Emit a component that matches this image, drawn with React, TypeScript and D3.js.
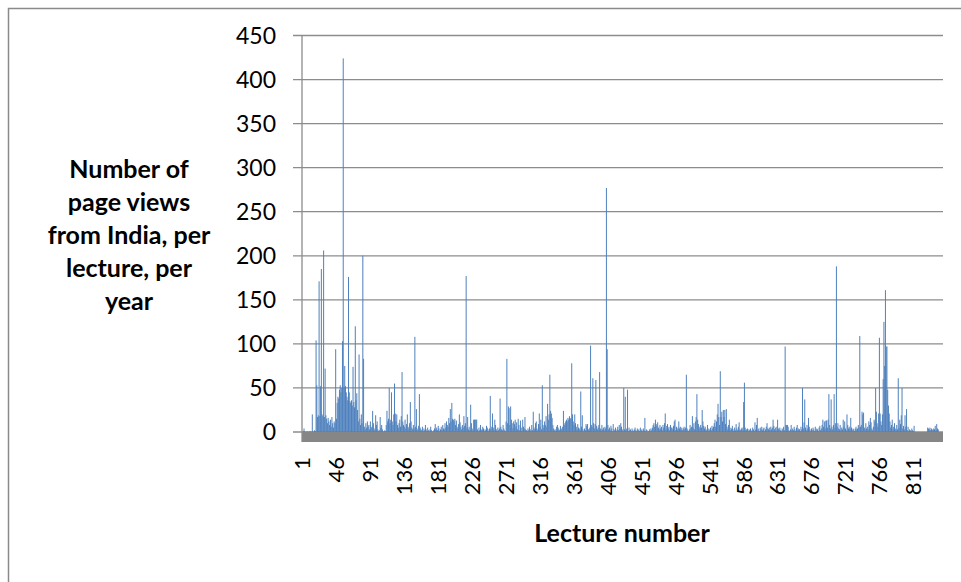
import React from "react";
import * as d3 from "d3";

// Page views from India per lecture per year (lecture 1..850)
const views: number[] = [
  // 1-50
  0,1,4,1,0,0,1,0,0,1, 0,1,0,20,1,0,2,1,104,53, 17,19,171,18,52,185,20,18,206,17, 72,19,15,10,16,12,8,14,6,17, 10,5,12,10,94,15,33,40,38,48,
  // 51-100
  53,45,50,103,424,50,75,52,45,40, 36,176,45,35,33,36,30,74,34,28, 120,36,44,25,12,88,15,8,20,10, 200,83,6,3,10,5,12,6,8,3, 12,5,6,24,10,4,2,19,8,12,
  // 101-150
  3,1,2,17,5,8,3,1,0,2, 1,8,24,12,15,50,10,14,45,12, 8,20,55,21,12,20,8,5,10,14, 6,18,68,12,8,6,14,4,9,20, 6,4,10,34,12,5,3,8,4,108,
  // 151-200
  6,26,4,2,7,43,5,3,2,6, 1,4,2,8,3,1,5,2,1,3, 6,2,1,0,2,4,9,3,5,2, 7,4,1,3,6,2,8,4,3,10, 5,12,8,6,16,10,26,12,33,15,
  // 201-250
  14,12,15,8,13,6,4,9,20,11, 6,3,8,5,18,7,10,177,5,17, 3,6,2,31,10,4,2,14,14,14, 14,14,3,1,5,2,8,3,2,6, 4,1,3,2,7,5,3,1,4,41,
  // 251-300
  3,6,21,5,2,14,8,3,1,5, 2,4,38,6,3,2,8,4,2,1, 12,83,10,29,27,8,29,14,10,4, 12,9,14,6,11,3,15,8,2,13, 5,1,14,6,4,17,3,2,1,4,
  // 301-350
  2,6,3,1,8,2,23,5,3,10, 12,4,2,9,21,6,14,3,53,8, 5,12,8,18,6,32,14,20,65,24, 21,16,8,4,2,3,1,6,8,5, 3,2,7,4,3,6,24,8,10,12,
  // 351-400
  14,12,16,14,18,15,16,78,20,12, 8,20,10,6,3,9,5,4,2,46, 6,19,3,1,4,2,9,7,9,3, 3,5,98,8,6,61,10,4,9,59, 7,3,5,8,68,4,2,8,3,5,
  // 401-450
  2,6,4,277,94,8,3,5,2,7, 4,1,9,3,2,5,1,3,6,2, 8,4,10,6,3,1,50,3,40,2, 4,48,1,5,2,3,1,4,2,1, 3,5,2,1,4,2,3,1,5,2,
  // 451-500
  3,1,4,2,16,1,3,2,0,1, 3,1,4,2,5,8,10,6,14,9, 7,11,5,3,8,4,6,2,8,5, 10,21,3,7,9,4,6,2,8,5, 5,3,7,12,14,2,6,3,5,12,
  // 501-550
  4,6,3,5,2,4,6,3,5,65, 4,2,1,3,8,4,6,18,5,10, 3,12,17,43,14,9,6,4,8,5, 25,12,7,4,6,3,2,8,4,1, 3,5,2,7,4,6,10,14,6,12,
  // 551-600
  20,32,17,8,69,17,23,12,25,17, 25,9,26,6,3,8,14,5,2,4, 7,3,1,5,2,9,4,2,6,11, 3,2,4,5,2,34,56,5,2,3, 4,1,3,2,4,1,2,5,3,1,
  // 601-650
  11,3,8,16,2,4,1,5,3,6, 2,4,5,1,3,6,10,4,3,5, 2,6,3,5,14,7,3,5,2,6, 14,4,3,5,2,1,4,3,6,2, 97,8,8,8,6,2,1,3,8,2,
  // 651-700
  4,2,6,3,1,5,8,2,4,3, 1,6,3,50,4,11,37,5,2,8, 4,16,6,3,1,4,2,5,3,1, 6,2,4,3,1,5,7,2,4,8, 14,6,12,4,13,13,5,14,43,8,
  // 701-750
  4,37,6,3,8,43,5,10,188,6, 10,4,3,8,2,5,3,14,6,12, 4,2,20,8,4,6,3,16,5,2, 4,3,1,4,6,3,4,8,5,109, 6,8,23,20,22,5,3,10,4,6,
  // 751-800
  3,12,8,16,11,4,2,6,14,12, 50,23,10,6,21,107,21,12,8,20, 60,125,75,161,97,97,48,30,21,12, 5,8,14,3,6,10,4,2,8,3, 61,5,14,9,19,50,4,7,3,19,
  // 801-850
  6,26,2,6,1,3,2,1,4,2, 1,7,0,0,0,0,0,0,0,0, 0,0,0,0,0,0,0,0,0,5, 4,3,5,2,4,3,2,4,3,7, 2,9,4,3,0,0,0,0,0,0,
];

const lectures: number[] = views.map((_, i) => i + 1);
const xTickLabels: string[] = ["1","46","91","136","181","226","271","316","361","406","451","496","541","586","631","676","721","766","811"];
const yTicks: number[] = [0, 50, 100, 150, 200, 250, 300, 350, 400, 450];
const yTitleLines: string[] = ["Number of", "page views", "from India, per", "lecture, per", "year"];
const xTitle = "Lecture number";

const W = 961;
const H = 582;
const left = 302;
const right = 943;
const top = 35.5;
const bottom = 432;

export default function App() {
  const x = d3.scaleBand<number>().domain(lectures).range([left, right]).padding(0);
  const y = d3.scaleLinear().domain([0, 450]).range([bottom, top]);
  const bw = Math.max(x.bandwidth(), 1);
  const font = "Lato, 'Open Sans', sans-serif";
  const grid = "#8c8c8c";

  return (
    <svg
      width={W}
      height={H}
      style={{ position: "absolute", left: 0, top: 0, display: "block", background: "#fff" }}
    >
      {/* chart area border */}
      <path d={`M8.5,${H} V8.5 H${W}`} fill="none" stroke="#8a8a8a" strokeWidth={1.5} />

      {/* gridlines */}
      {yTicks.map((t) => (
        <line key={"g" + t} x1={293} x2={right} y1={y(t)} y2={y(t)} stroke={grid} strokeWidth={1.3} />
      ))}

      {/* bars */}
      {views.map((v, i) =>
        v > 0 ? (
          <rect
            key={i}
            x={x(lectures[i])!}
            y={y(v)}
            width={bw}
            height={bottom - y(v)}
            fill="#4f81bd"
          />
        ) : null
      )}

      {/* floor */}
      <rect x={left} y={bottom} width={right - left} height={10} fill="#868686" />

      {/* y axis line */}
      <line x1={left} x2={left} y1={top} y2={bottom + 10} stroke={grid} strokeWidth={1.3} />

      {/* y tick labels */}
      {yTicks.map((t) => (
        <text
          key={"yl" + t}
          x={276}
          y={y(t)}
          dy="0.36em"
          textAnchor="end"
          fontFamily={font}
          fontSize={23}
          fill="#000"
        >
          {t}
        </text>
      ))}

      {/* x tick labels */}
      {xTickLabels.map((l) => {
        const cx = x(+l)! + x.bandwidth() / 2 + 8;
        return (
          <text
            key={"xl" + l}
            transform={`translate(${cx},457) rotate(-90)`}
            textAnchor="end"
            fontFamily={font}
            fontSize={22}
            fill="#000"
          >
            {l}
          </text>
        );
      })}

      {/* y axis title */}
      {yTitleLines.map((s, i) => (
        <text
          key={"yt" + i}
          x={129}
          y={168.5 + i * 33}
          dy="0.36em"
          textAnchor="middle"
          fontFamily={font}
          fontWeight="bold"
          fontSize={25}
          fill="#000"
        >
          {s}
        </text>
      ))}

      {/* x axis title */}
      <text
        x={622}
        y={533}
        dy="0.36em"
        textAnchor="middle"
        fontFamily={font}
        fontWeight="bold"
        fontSize={25}
        fill="#000"
      >
        {xTitle}
      </text>
    </svg>
  );
}
